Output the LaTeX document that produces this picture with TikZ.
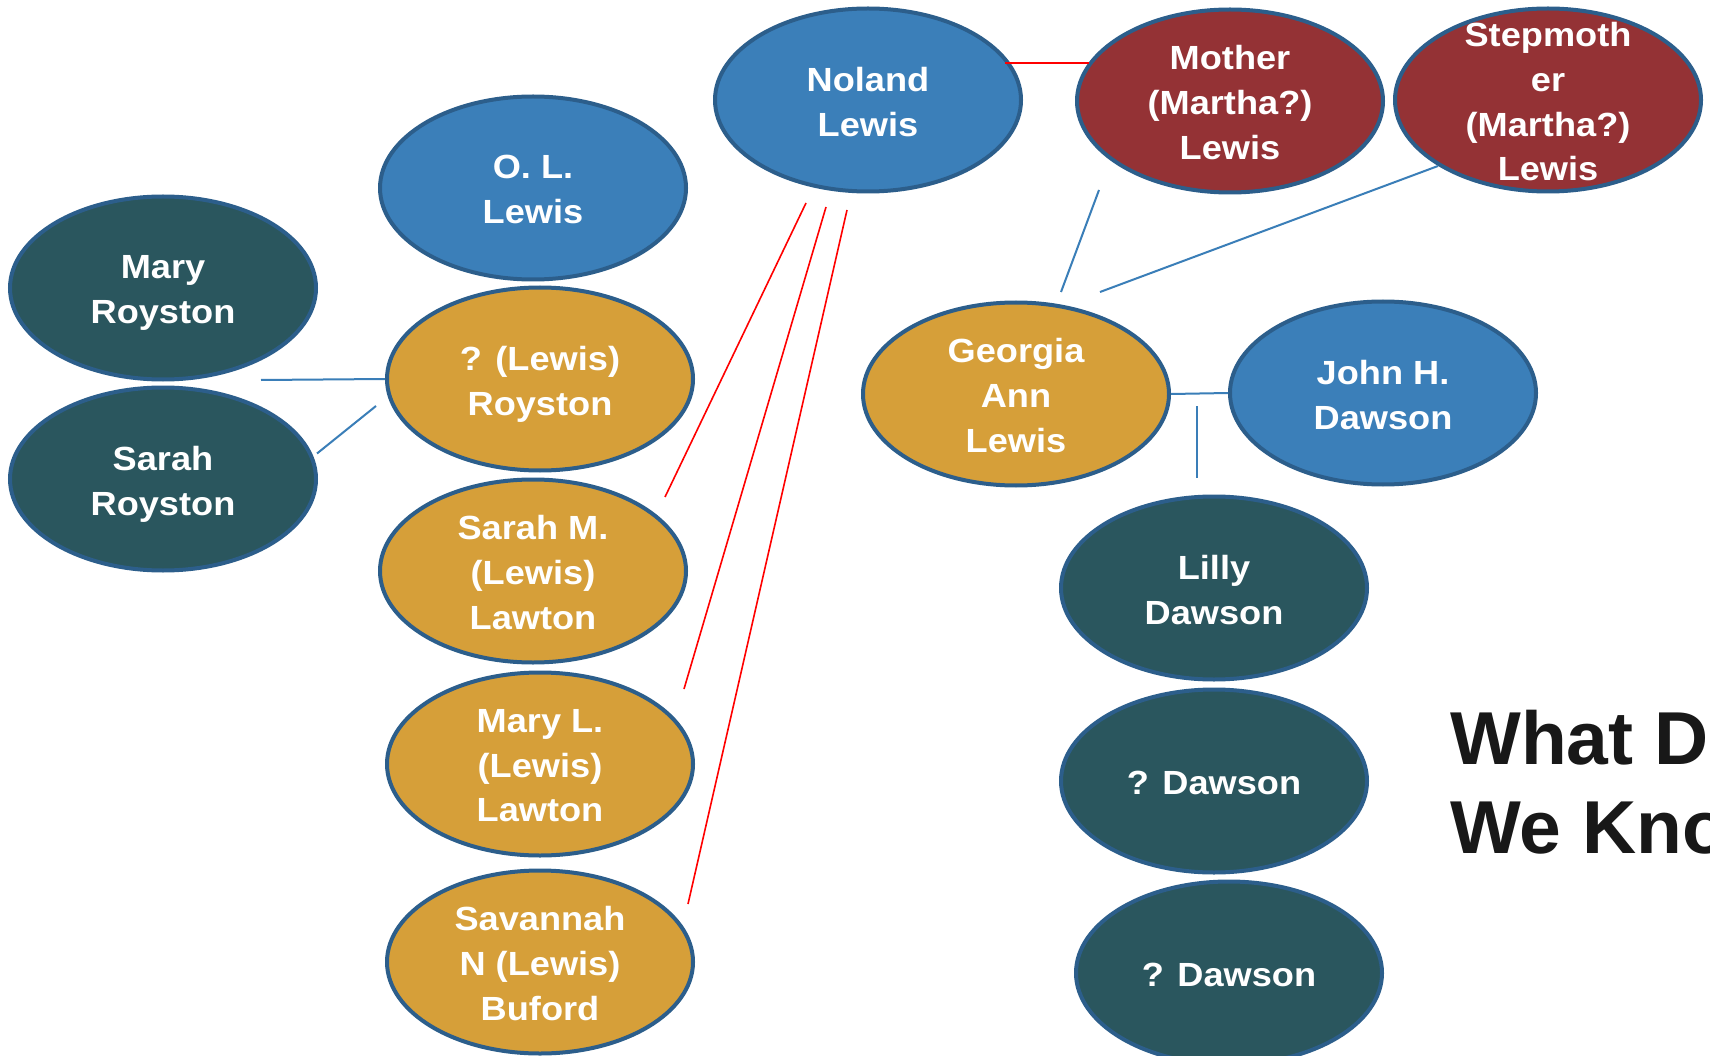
\documentclass[tikz,border=0pt]{standalone}
\usepackage{fontspec}
\setmainfont{Liberation Sans}
\newfontfamily\namefont{Liberation Sans}[FakeStretch=1.08]
\usetikzlibrary{shapes.geometric}
\definecolor{bluefill}{RGB}{59,127,185}
\definecolor{rim}{RGB}{44,94,139}
\definecolor{goldfill}{RGB}{214,159,57}
\definecolor{tealfill}{RGB}{42,86,94}
\definecolor{maroonfill}{RGB}{148,50,53}
\definecolor{linkblue}{RGB}{58,126,184}
\definecolor{titleblack}{RGB}{24,24,24}
\begin{document}
\begin{tikzpicture}[x=1pt,y=-1pt,
  personshape/.style={ellipse, draw=rim, line width=4pt, minimum width=306pt, minimum height=183pt, inner sep=0pt},
  blueP/.style={personshape, fill=bluefill},
  goldP/.style={personshape, fill=goldfill},
  tealP/.style={personshape, fill=tealfill},
  maroonP/.style={personshape, fill=maroonfill},
  nametext/.style={text=white, font=\namefont\bfseries\fontsize{33.5}{44.8}\selectfont, align=center, inner sep=0pt, yshift=-5pt, execute at end node={\vphantom{y}}},
  titletext/.style={anchor=base west, text=titleblack, font=\bfseries\fontsize{75}{89}\selectfont, inner sep=0pt},
  kin/.style={draw=red, line width=1.6pt},
  tie/.style={draw=linkblue, line width=2pt}]
\useasboundingbox (0,0) rectangle (1710,1056);
\fill[white] (0,0) rectangle (1710,1056);
\clip (0,0) rectangle (1710,1056);

% persons
\node[blueP] (noland) at (868,100) {};
\node[nametext] (noland-t) at (noland) {Noland\\Lewis};
\node[maroonP] (mother) at (1230,101) {};
\node[nametext] (mother-t) at (mother) {Mother\\(Martha?)\\Lewis};
\node[maroonP] (stepm) at (1548,100) {};
\node[nametext] (stepm-t) at (stepm) {Stepmoth\\er\\(Martha?)\\Lewis};
\node[blueP] (ol) at (533,188) {};
\node[nametext] (ol-t) at (ol) {O. L.\\Lewis};
\node[tealP] (mary) at (163,288) {};
\node[nametext] (mary-t) at (mary) {Mary\\Royston};
\node[tealP] (sarah) at (163,479) {};
\node[nametext] (sarah-t) at (sarah) {Sarah\\Royston};
\node[goldP] (royston) at (540,379) {};
\node[nametext] (royston-t) at (royston) {? (Lewis)\\Royston};
\node[goldP] (sarahm) at (533,571) {};
\node[nametext] (sarahm-t) at (sarahm) {Sarah M.\\(Lewis)\\Lawton};
\node[goldP] (maryl) at (540,764) {};
\node[nametext] (maryl-t) at (maryl) {Mary L.\\(Lewis)\\Lawton};
\node[goldP] (savannah) at (540,962) {};
\node[nametext] (savannah-t) at (savannah) {Savannah\\N (Lewis)\\Buford};
\node[goldP] (georgia) at (1016,394) {};
\node[nametext] (georgia-t) at (georgia) {Georgia\\Ann\\Lewis};
\node[blueP] (john) at (1383,393) {};
\node[nametext] (john-t) at (john) {John H.\\Dawson};
\node[tealP] (lilly) at (1214,588) {};
\node[nametext] (lilly-t) at (lilly) {Lilly\\Dawson};
\node[tealP] (dawson1) at (1214,781) {};
\node[nametext] (dawson1-t) at (dawson1) {? Dawson};
\node[tealP] (dawson2) at (1229,973) {};
\node[nametext] (dawson2-t) at (dawson2) {? Dawson};

% title
\node[titletext] (title1) at (1450,764) {What D};
\node[titletext] (title2) at (1450,853) {We Kno};

% connector ends
\coordinate (nm-a) at (1005,63);
\coordinate (nm-b) at (1089,63);
\coordinate (r1a) at (806,203);
\coordinate (r1b) at (665,497);
\coordinate (r2a) at (826,207);
\coordinate (r2b) at (684,689);
\coordinate (r3a) at (847,210);
\coordinate (r3b) at (688,904);
\coordinate (b1a) at (261,380);
\coordinate (b2a) at (317,453.5);
\coordinate (b2b) at (376,406);
\coordinate (b3a) at (1099,190);
\coordinate (b3b) at (1061,292);
\coordinate (b4a) at (1438,166);
\coordinate (b4b) at (1100,292);
\coordinate (b6a) at (1197,406);
\coordinate (b6b) at (1197,478);

% red connectors
\draw[kin] (nm-a) -- (nm-b);
\draw[kin] (r1a) -- (r1b);
\draw[kin] (r2a) -- (r2b);
\draw[kin] (r3a) -- (r3b);

% blue connectors
\draw[tie] (b1a) -- (royston.west);
\draw[tie] (b2a) -- (b2b);
\draw[tie] (b3a) -- (b3b);
\draw[tie] (b4a) -- (b4b);
\draw[tie] (georgia.east) -- (john.west);
\draw[tie] (b6a) -- (b6b);
\end{tikzpicture}
\end{document}
